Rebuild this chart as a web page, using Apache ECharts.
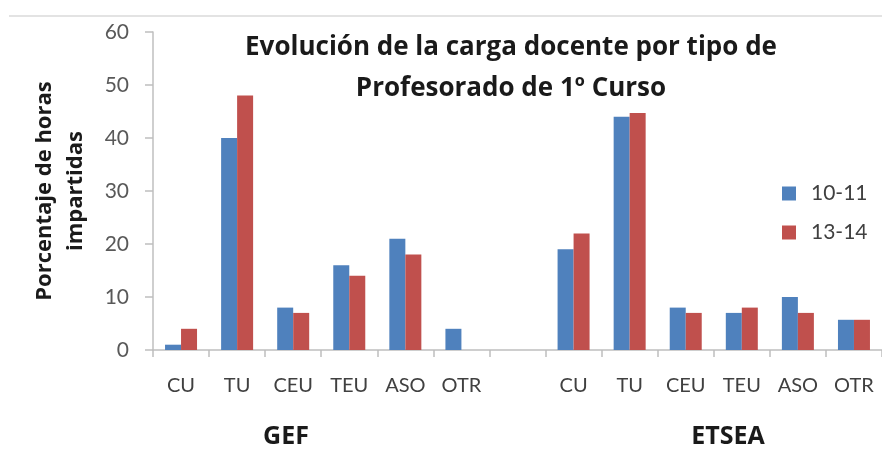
<!DOCTYPE html>
<html>
<head>
<meta charset="utf-8">
<script src="https://cdn.jsdelivr.net/npm/echarts@6/dist/echarts.min.js"></script>
<style>
  html, body { margin: 0; padding: 0; background: #fff; }
  #main { width: 882px; height: 459px; }
</style>
</head>
<body>
<div id="main"></div>
<script>
// categories: GEF block, one empty slot, ETSEA block
var categories = ['CU', 'TU', 'CEU', 'TEU', 'ASO', 'OTR', '', 'CU', 'TU', 'CEU', 'TEU', 'ASO', 'OTR'];
var serie1011 = [1, 40, 8, 16, 21, 4, null, 19, 44, 8, 7, 10, 5.7];
var serie1314 = [4, 48, 7, 14, 18, 0, null, 22, 44.7, 7, 8, 7, 5.7];
var yTicks = [0, 10, 20, 30, 40, 50, 60];

var chartDom = document.getElementById('main');
var myChart = echarts.init(chartDom);
var font = 'Lato, "Liberation Sans", sans-serif';
var boldFont = '"Open Sans", Lato, sans-serif';
var option;

option = {
    animation: false,
    textStyle: { fontFamily: font },
    title: {
        text: 'Evolución de la carga docente por tipo de\nProfesorado de 1º Curso',
        left: 506,
        top: 22,
        textAlign: 'center',
        textStyle: { fontFamily: boldFont, fontSize: 26, fontWeight: 'bold', color: '#1a1a1a', lineHeight: 41 }
    },
    legend: {
        orient: 'vertical',
        left: 777,
        top: 178,
        icon: 'rect',
        itemWidth: 14,
        itemHeight: 14,
        itemGap: 18,
        textStyle: { fontFamily: font, fontSize: 21, color: '#404040', padding: [0, 0, 0, 10] },
        data: ['10-11', '13-14']
    },
    grid: {
        left: 153,
        top: 32,
        width: 732,
        bottom: 109
    },
    xAxis: {
        type: 'category',
        data: categories,
        axisLine: { lineStyle: { color: '#bfbfbf', width: 1.5 } },
        axisTick: { show: true, interval: 0, length: 7, lineStyle: { color: '#bfbfbf', width: 1.5 } },
        axisLabel: { interval: 0, fontFamily: font, fontSize: 20, color: '#404040', margin: 26 }
    },
    yAxis: {
        type: 'value',
        min: yTicks[0],
        max: yTicks[yTicks.length - 1],
        interval: 10,
        name: 'Porcentaje de horas\nimpartidas',
        nameLocation: 'middle',
        nameRotate: 90,
        nameGap: 62,
        nameTextStyle: { fontFamily: boldFont, fontSize: 22, fontWeight: 'bold', color: '#1a1a1a', lineHeight: 31 },
        splitLine: { show: false },
        axisLine: { show: true, lineStyle: { color: '#bfbfbf', width: 1.5 } },
        axisTick: { show: true, length: 8, lineStyle: { color: '#bfbfbf', width: 1.5 } },
        axisLabel: { fontFamily: font, fontSize: 21, color: '#595959', margin: 24 }
    },
    graphic: [
        { type: 'line', shape: { x1: 9, y1: 16, x2: 882, y2: 16 }, style: { stroke: '#e3e3e3', lineWidth: 2 } },
        { type: 'text', x: 286, y: 437, style: { text: 'GEF', fontFamily: boldFont, fontSize: 25, fontWeight: 'bold', fill: '#1a1a1a', textAlign: 'center', textVerticalAlign: 'middle' } },
        { type: 'text', x: 728, y: 437, style: { text: 'ETSEA', fontFamily: boldFont, fontSize: 25, fontWeight: 'bold', fill: '#1a1a1a', textAlign: 'center', textVerticalAlign: 'middle' } }
    ],
    series: [
        { name: '10-11', type: 'bar', data: serie1011, barWidth: 16, barGap: '0%', itemStyle: { color: '#4f81bd' } },
        { name: '13-14', type: 'bar', data: serie1314, barWidth: 16, barGap: '0%', itemStyle: { color: '#c0504d' } }
    ]
};

option && myChart.setOption(option);
</script>
</body>
</html>
